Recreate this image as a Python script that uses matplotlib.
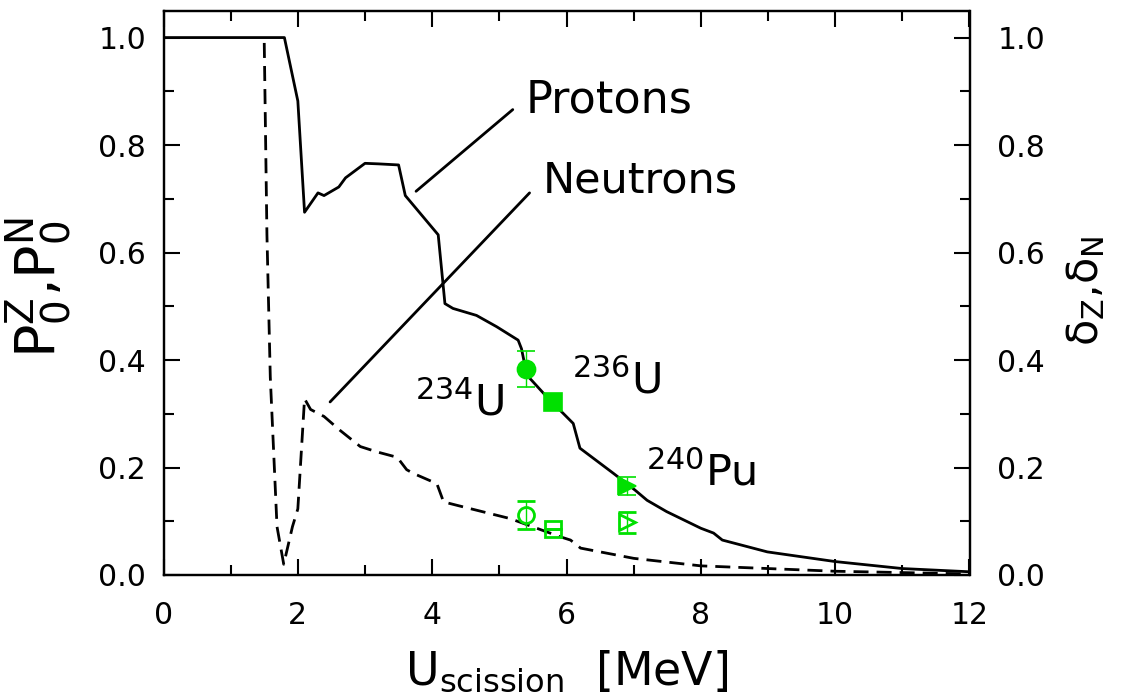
import matplotlib
matplotlib.use('Agg')
import matplotlib.pyplot as plt
from matplotlib.ticker import MultipleLocator

# probability curves
proton_x = [0, 1.80, 2.0, 2.10, 2.30, 2.39, 2.61, 2.71, 3.0, 3.2, 3.5, 3.6, 4.09, 4.19,
            4.31, 4.66, 4.96, 5.28, 5.33, 5.41, 5.71, 6.10, 6.20, 6.70, 7.02, 7.20,
            7.49, 8.0, 8.19, 8.32, 8.99, 10.0, 11.0, 12.0]
proton_y = [1.0, 1.0, 0.882, 0.675, 0.711, 0.706, 0.722, 0.739, 0.766, 0.765, 0.763,
            0.706, 0.633, 0.505, 0.496, 0.483, 0.462, 0.437, 0.421, 0.372, 0.331,
            0.282, 0.236, 0.189, 0.158, 0.139, 0.118, 0.087, 0.078, 0.065, 0.043,
            0.025, 0.012, 0.006]

neutron_x = [1.50, 1.54, 1.59, 1.69, 1.79, 1.92, 2.0, 2.10, 2.19, 2.39, 2.63, 2.93,
             3.18, 3.48, 3.62, 3.72, 4.07, 4.17, 4.39, 5.16, 5.91, 6.06, 6.21, 7.0,
             8.0, 10.0, 12.0]
neutron_y = [0.99, 0.633, 0.368, 0.090, 0.020, 0.090, 0.123, 0.328, 0.308, 0.295,
             0.269, 0.239, 0.229, 0.219, 0.196, 0.189, 0.170, 0.136, 0.129, 0.105,
             0.071, 0.065, 0.050, 0.031, 0.017, 0.007, 0.002]

# measured even-odd effects
isotopes = [r'$^{234}$U', r'$^{236}$U', r'$^{240}$Pu']
iso_u = [5.40, 5.80, 6.90]
delta_z = [0.383, 0.322, 0.165]
delta_z_err = [0.034, 0.0, 0.0165]
delta_n = [0.112, 0.085, 0.098]
delta_n_err = [0.026, 0.0, 0.019]
markers = ['o', 's', '>']

green = '#00e000'

plt.rcParams['font.family'] = ['DejaVu Sans']
plt.rcParams['mathtext.fontset'] = 'dejavusans'

fig = plt.figure(figsize=(11.25, 6.99), dpi=100)
ax = fig.add_axes([163.5 / 1125, 1 - 575 / 699, 806 / 1125, 564.3 / 699])

ax.plot(proton_x, proton_y, color='black', lw=2.0, zorder=2)
ax.plot(neutron_x, neutron_y, color='black', lw=2.0, dashes=(5.4, 2.9), zorder=2)

for i in range(len(iso_u)):
    ax.errorbar(iso_u[i], delta_z[i], yerr=delta_z_err[i], fmt=markers[i], color=green,
                ms=13, mew=1.2, elinewidth=1, capsize=6.5, capthick=1, zorder=3)
    ax.errorbar(iso_u[i], delta_n[i], yerr=delta_n_err[i], fmt=markers[i], color=green,
                mfc='none', mec=green, ms=11.5, mew=2.0, elinewidth=1, capsize=6.5,
                capthick=1, zorder=3)

# labels and leader lines
ax.text(5.386, 0.861, 'Protons', fontsize=32, ha='left', va='baseline')
ax.text(5.65, 0.712, 'Neutrons', fontsize=31, ha='left', va='baseline')
ax.annotate('', xy=(3.76, 0.714), xytext=(5.20, 0.866),
            arrowprops=dict(arrowstyle='-', lw=2.0, color='black', shrinkA=0, shrinkB=0))
ax.annotate('', xy=(2.48, 0.322), xytext=(5.45, 0.711),
            arrowprops=dict(arrowstyle='-', lw=2.0, color='black', shrinkA=0, shrinkB=0))

label_pos = [(3.75, 0.297), (6.08, 0.338), (7.19, 0.167)]
for name, (lx, ly) in zip(isotopes, label_pos):
    ax.text(lx, ly, name, fontsize=31, ha='left', va='baseline')

ax.set_xlim(0, 12)
ax.set_ylim(0, 1.05)
ax.xaxis.set_major_locator(MultipleLocator(2))
ax.xaxis.set_minor_locator(MultipleLocator(1))
ax.yaxis.set_major_locator(MultipleLocator(0.2))
ax.yaxis.set_minor_locator(MultipleLocator(0.1))
ax.xaxis.set_major_formatter(plt.FuncFormatter(lambda v, p: f'{v:.0f}'))
ax.yaxis.set_major_formatter(plt.FuncFormatter(lambda v, p: f'{v:.1f}'))
ax.tick_params(which='both', direction='in', top=True, right=True, width=1.5,
               labelsize=21.5)
ax.tick_params(which='major', length=11.5)
ax.tick_params(which='minor', length=7)
ax.tick_params(axis='y', pad=12.5)
ax.tick_params(axis='x', pad=19)
for s in ax.spines.values():
    s.set_linewidth(1.6)

ax2 = ax.twinx()
ax2.set_ylim(ax.get_ylim())
ax2.yaxis.set_major_locator(MultipleLocator(0.2))
ax2.yaxis.set_minor_locator(MultipleLocator(0.1))
ax2.yaxis.set_major_formatter(plt.FuncFormatter(lambda v, p: f'{v:.1f}'))
ax2.tick_params(which='both', direction='in', width=1.5, labelsize=21.5, pad=20)
ax2.tick_params(which='major', length=11.5)
ax2.tick_params(which='minor', length=7)
for s in ax2.spines.values():
    s.set_linewidth(1.6)

fig.text(38 / 1125, 1 - 287 / 699, r'P$_{\rm 0}^{\rm Z}$,P$_{\rm 0}^{\rm N}$',
         rotation=90, ha='center', va='center', fontsize=40)
fig.text(1086 / 1125, 1 - 291 / 699, r'δ$_{\rm Z}$,δ$_{\rm N}$',
         rotation=90, ha='center', va='center', fontsize=31)
fig.text(567 / 1125, 14 / 699, r'U$_{\rm scission}$  [MeV]',
         ha='center', va='baseline', fontsize=33)

fig.savefig('out.png', dpi=100)
